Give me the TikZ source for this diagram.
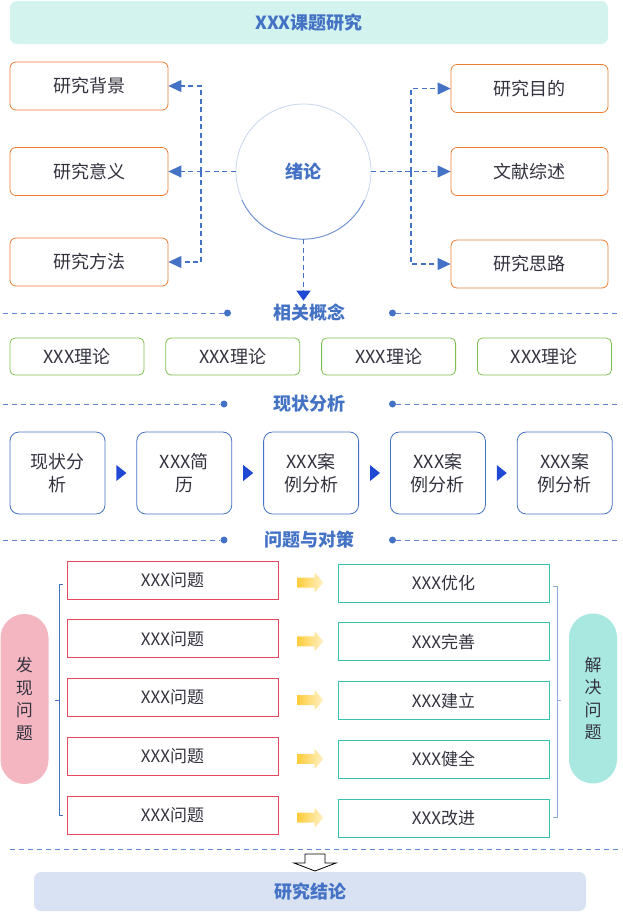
\documentclass[tikz,border=0pt]{standalone}
\usepackage{fontspec}
\setmainfont{Noto Sans CJK SC}
\usetikzlibrary{arrows.meta,positioning,calc}
\definecolor{BlueMain}{HTML}{4472C4}
\definecolor{DeepBlue}{HTML}{1F48D4}
\definecolor{BraceLight}{HTML}{8FAADC}
\definecolor{TitleBg}{HTML}{D3F3EF}
\definecolor{ConclBg}{HTML}{D9E2F3}
\definecolor{OrangeLine}{HTML}{ED7D31}
\definecolor{GreenLine}{HTML}{7CBF4E}
\definecolor{RedLine}{HTML}{E5495E}
\definecolor{TealLine}{HTML}{36C2AE}
\definecolor{PinkFill}{HTML}{F4B6C0}
\definecolor{MintFill}{HTML}{A9E8E1}
\definecolor{TextDark}{HTML}{33333F}
\definecolor{GoldA}{HTML}{FFCC3A}
\definecolor{GoldB}{HTML}{FFF2C8}
\tikzset{
  BX/.style={rectangle,text centered,align=center,line width=0.8pt,
             text=TextDark,font=\fontsize{18}{23}\selectfont},
  nO/.style={BX,draw=OrangeLine,rounded corners=6pt,
             minimum width=158pt,minimum height=48pt},
  nG/.style={BX,draw=GreenLine,rounded corners=5pt,
             minimum width=134pt,minimum height=37pt},
  nF/.style={BX,draw=BlueMain,rounded corners=9pt,
             minimum width=95pt,minimum height=82pt},
  nP/.style={BX,draw=RedLine,minimum width=211pt,minimum height=38pt,
             font=\fontsize{17}{20}\selectfont},
  nS/.style={BX,draw=TealLine,minimum width=211pt,minimum height=38pt,
             font=\fontsize{17}{20}\selectfont},
  PL/.style={rectangle,rounded corners=24pt,minimum width=48pt,
             minimum height=170pt,align=center,text=TextDark,
             font=\fontsize{17}{22.5}\selectfont},
  BAND/.style={rectangle,rounded corners=7pt,text=BlueMain,
               font=\fontsize{18}{22}\selectfont\bfseries},
  HD/.style={text=BlueMain,font=\fontsize{18}{22}\selectfont\bfseries},
  DT/.style={circle,fill=BlueMain,inner sep=0pt,minimum size=7pt},
  dashArr/.style={BlueMain,line width=1.1pt,dash pattern=on 5pt off 3.5pt,
                  -{Triangle[length=13pt,width=12pt]}},
  downArr/.style={BlueMain,line width=1.1pt,dash pattern=on 5pt off 3.5pt,
                  -{Triangle[length=10pt,width=14pt,color=DeepBlue]}},
  secLine/.style={BlueMain!85,line width=1pt,dash pattern=on 5pt off 4pt},
  goldArr/.style={left color=GoldA,right color=GoldB,draw=none}
}

\begin{document}
\begin{tikzpicture}[x=1pt,y=-1pt]
  \useasboundingbox (0,0) rectangle (622,914);

  % title and conclusion bands
  \node[BAND,fill=TitleBg,minimum width=598pt,minimum height=43pt] (title) at (309,22.5) {XXX课题研究};
  \node[BAND,fill=ConclBg,minimum width=552pt,minimum height=39pt] (concl) at (310,891.5) {研究结论};

  % introduction
  \node[circle,draw=BlueMain!30,line width=0.8pt,minimum size=135pt,HD] (circ) at (303.5,171.5) {绪论};
  \draw[BlueMain!80,line width=0.8pt] (circ.-155) arc[start angle=155,end angle=25,radius=67.5];

  \node[nO] (bg1) at (89,86) {研究背景};
  \node[nO] (bg2) at (89,171.5) {研究意义};
  \node[nO] (bg3) at (89,262) {研究方法};
  \node[nO,minimum width=157pt] (ob1) at (529.5,88.5) {研究目的};
  \node[nO,minimum width=157pt] (ob2) at (529.5,171.5) {文献综述};
  \node[nO,minimum width=157pt] (ob3) at (529.5,264) {研究思路};

  \coordinate (jl) at (201,171.5);
  \coordinate (jr) at (411,171.5);
  \draw[dashArr] (circ.west)--(bg2.east);
  \draw[dashArr] (jl)|-(bg1.east);
  \draw[dashArr] (jl)|-(bg3.east);
  \draw[dashArr] (circ.east)--(ob2.west);
  \draw[dashArr] (jr)|-(ob1.west);
  \draw[dashArr] (jr)|-(ob3.west);

  % section headers
  \node[HD] (h1) at (309,313) {相关概念};
  \node[HD] (h2) at (309.5,404) {现状分析};
  \node[HD] (h3) at (309.5,540) {问题与对策};
  \draw[downArr] (circ.south)--(circ.south |- h1.north);

  \foreach \h/\y/\xl in {h1/313/227.5,h2/404/224,h3/540/224}{
    \node[DT] (\h l) at (\xl,\y) {};
    \node[DT] (\h r) at (392.5,\y) {};
    \coordinate (\h a) at (3,\y);
    \coordinate (\h b) at (618,\y);
    \draw[secLine] (\h a)--(\h l);
    \draw[secLine] (\h r)--(\h b);
  }

  % theories
  \node[nG] (t1) at (77,356.5) {XXX理论};
  \node[nG,right=21pt of t1] (t2) {XXX理论};
  \node[nG,right=21pt of t2] (t3) {XXX理论};
  \node[nG,right=21pt of t3] (t4) {XXX理论};

  % status analysis
  \node[nF] (f1) at (57.5,473) {现状分\\析};
  \node[nF,right=31pt of f1] (f2) {XXX简\\历};
  \node[nF,right=31pt of f2] (f3) {XXX案\\例分析};
  \node[nF,right=31pt of f3] (f4) {XXX案\\例分析};
  \node[nF,right=31pt of f4] (f5) {XXX案\\例分析};
  \foreach \a/\b in {f1/f2,f2/f3,f3/f4,f4/f5}
    \fill[DeepBlue,shift={($(\a.east)!0.5!(\b.west)$)}] (-4.5,-8)--(5.5,0)--(-4.5,8)--cycle;

  % problems and measures
  \node[nP] (p1) at (172.5,580) {XXX问题};
  \node[nP,below=20pt of p1] (p2) {XXX问题};
  \node[nP,below=20pt of p2] (p3) {XXX问题};
  \node[nP,below=20pt of p3] (p4) {XXX问题};
  \node[nP,below=20pt of p4] (p5) {XXX问题};
  \node[nS] (s1) at (443.5,583) {XXX优化};
  \node[nS,below=20pt of s1] (s2) {XXX完善};
  \node[nS,below=20pt of s2] (s3) {XXX建立};
  \node[nS,below=20pt of s3] (s4) {XXX健全};
  \node[nS,below=20pt of s4] (s5) {XXX改进};
  \foreach \i in {1,...,5}
    \shade[goldArr,shift={($(p\i.east)!0.5!(s\i.west)+(3,1)$)}]
      (-13.5,-5)--(3.5,-5)--(3.5,-10)--(12.5,0)--(3.5,10)--(3.5,5)--(-13.5,5)--cycle;

  \node[PL,fill=PinkFill] (find) at (24.5,699) {发\\现\\问\\题};
  \node[PL,fill=MintFill] (solve) at (593,698.5) {解\\决\\问\\题};

  \draw[BlueMain,line width=0.9pt] (62.5,584)--(59,584)--(59,815)--(62.5,815);
  \draw[BlueMain,line width=0.9pt] (59,700)--(55,700);
  \draw[BraceLight,line width=0.9pt] (553,586)--(557,586)--(557,817)--(553,817);
  \draw[BraceLight,line width=0.9pt] (557,700)--(561,700);

  % conclusion
  \coordinate (bl) at (10,849);
  \coordinate (br) at (622,849);
  \draw[secLine] (bl)--(br);
  \coordinate (oa) at (315,871);
  \draw[fill=white,line width=0.8pt] (oa)--++(-21,-8)--++(11,0)--++(0,-9)--++(20,0)--++(0,9)--++(11,0)--cycle;
\end{tikzpicture}
\end{document}
